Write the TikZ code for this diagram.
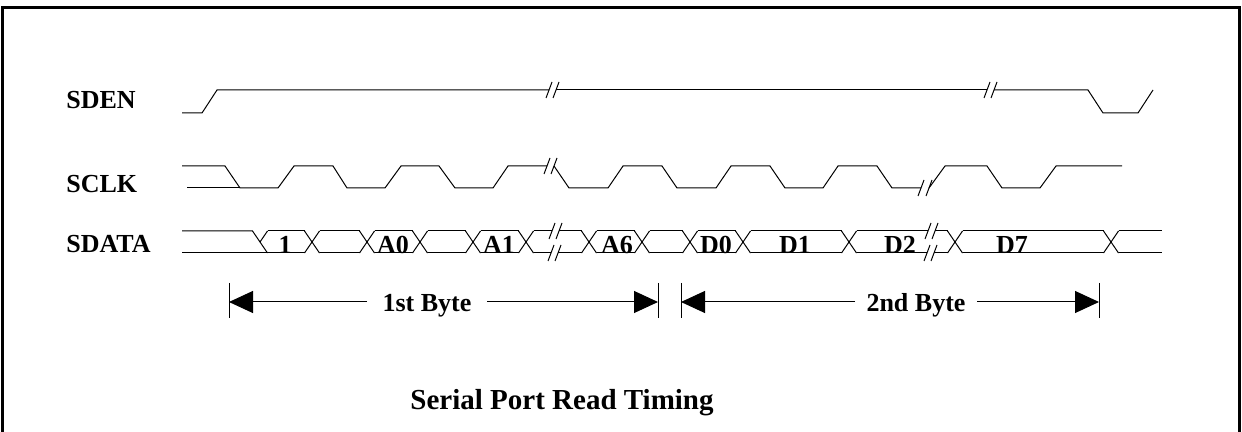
\documentclass[tikz,border=0pt]{standalone}
\usepackage{fontspec}
\setmainfont{Liberation Serif}
\usetikzlibrary{arrows.meta}
\begin{document}
\begin{tikzpicture}[x=0.5pt,y=-0.5pt,
  sig/.style={line width=0.5pt,line join=miter},
  brk/.style={line width=0.5pt},
  lbl/.style={font=\bfseries\fontsize{13}{15}\selectfont,inner sep=0pt},
  ttl/.style={font=\bfseries\fontsize{14.5}{17}\selectfont,inner sep=0pt},
  tick/.style={line width=0.5pt},
  arr/.style={line width=0.5pt,-{Triangle[length=12pt,width=11pt]}}]
\useasboundingbox (0,0) rectangle (1242,432);
\fill[white] (0,0) rectangle (1242,432);
% frame
\draw[line width=1.5pt] (2,445) -- (2,7.7) -- (1239.3,7.7) -- (1239.3,445);

% signal names
\node[lbl,anchor=base west] (nsden) at (66,109) {SDEN};
\node[lbl,anchor=base west] (nsclk) at (66,193) {SCLK};
\node[lbl,anchor=base west] (nsdata) at (66,253) {SDATA};

% SDEN
\draw[sig] (182,113) -- (202,113) -- (217,90) -- (549,90);
\draw[brk] (546,98) -- (552,82) (553,98) -- (559,82);
\draw[sig] (556,90) -- (987,90);
\draw[brk] (984,98) -- (990,82) (991,98) -- (997,82);
\draw[sig] (994,90) -- (1088,90) -- (1103,113) -- (1138,113) -- (1153,90);

% SCLK
\draw[sig] (182,166) -- (225,166) -- (240,188) -- (278,188) -- (294,166) -- (333,166)
  -- (347,188) -- (385,188) -- (401,166) -- (439,166) -- (455,188) -- (493,188)
  -- (508,166) -- (547,166);
\draw[sig] (187,188) -- (240,188);
\draw[brk] (544,174) -- (550,158) (551,174) -- (557,158);
\draw[sig] (554,166) -- (569,188) -- (608,188) -- (623,166) -- (662,166) -- (677,188)
  -- (716,188) -- (731,166) -- (770,166) -- (785,188) -- (823,188) -- (838,166)
  -- (877,166) -- (892,188) -- (921,188);
\draw[brk] (918,196) -- (924,180) (926,196) -- (932,180);
\draw[sig] (929,188) -- (945,166) -- (987,166) -- (1002,188) -- (1040,188)
  -- (1056,166) -- (1122,166);

% SDATA
% lead-in
\draw[sig] (182,231) -- (252.5,231) -- (267.5,253);
\draw[sig] (182,253) -- (267.5,253);
\draw[sig] (260,242) -- (267.5,231);
% crossings
\draw[sig] (304.5,231) -- (319.5,253) (304.5,253) -- (319.5,231);
\draw[sig] (359.5,231) -- (374.5,253) (359.5,253) -- (374.5,231);
\draw[sig] (412.5,231) -- (427.5,253) (412.5,253) -- (427.5,231);
\draw[sig] (465.5,231) -- (480.5,253) (465.5,253) -- (480.5,231);
\draw[sig] (518.5,231) -- (533.5,253) (518.5,253) -- (533.5,231);
\draw[sig] (581.5,231) -- (596.5,253) (581.5,253) -- (596.5,231);
\draw[sig] (634.5,231) -- (649.5,253) (634.5,253) -- (649.5,231);
\draw[sig] (682.5,231) -- (697.5,253) (682.5,253) -- (697.5,231);
\draw[sig] (735.5,231) -- (750.5,253) (735.5,253) -- (750.5,231);
\draw[sig] (841.5,231) -- (856.5,253) (841.5,253) -- (856.5,231);
\draw[sig] (947.5,231) -- (962.5,253) (947.5,253) -- (962.5,231);
\draw[sig] (1103.5,231) -- (1118.5,253) (1103.5,253) -- (1118.5,231);
% cells: top edges
\draw[sig] (267.5,231) -- (304.5,231);
\draw[sig] (319.5,231) -- (359.5,231);
\draw[sig] (374.5,231) -- (412.5,231);
\draw[sig] (427.5,231) -- (465.5,231);
\draw[sig] (480.5,231) -- (518.5,231);
\draw[sig] (596.5,231) -- (634.5,231);
\draw[sig] (649.5,231) -- (682.5,231);
\draw[sig] (697.5,231) -- (735.5,231);
\draw[sig] (750.5,231) -- (841.5,231);
\draw[sig] (962.5,231) -- (1103.5,231);
% cells: bottom edges
\draw[sig] (267.5,253) -- (304.5,253);
\draw[sig] (319.5,253) -- (359.5,253);
\draw[sig] (374.5,253) -- (412.5,253);
\draw[sig] (427.5,253) -- (465.5,253);
\draw[sig] (480.5,253) -- (518.5,253);
\draw[sig] (596.5,253) -- (634.5,253);
\draw[sig] (649.5,253) -- (682.5,253);
\draw[sig] (697.5,253) -- (735.5,253);
\draw[sig] (750.5,253) -- (841.5,253);
\draw[sig] (962.5,253) -- (1103.5,253);
% broken cell A1..A6
\draw[sig] (533.5,231) -- (552,231) (559,231) -- (581.5,231)
           (533.5,253) -- (551,253) (558,253) -- (581.5,253);
\draw[brk] (549,239) -- (555,223) (556,239) -- (562,223)
           (548,261) -- (554,245) (555,261) -- (561,245);
% broken cell D2
\draw[sig] (856.5,231) -- (928,231) (935,231) -- (947.5,231)
           (856.5,253) -- (927,253) (934,253) -- (947.5,253);
\draw[brk] (925,239) -- (931,223) (932,239) -- (938,223)
           (924,261) -- (930,245) (931,261) -- (937,245);
% tail
\draw[sig] (1118.5,231) -- (1162,231) (1118.5,253) -- (1162,253);

% data labels
\node[lbl,anchor=base] (d1) at (285,254) {1};
\node[lbl,anchor=base] (da0) at (393,254) {A0};
\node[lbl,anchor=base] (da1) at (499,254) {A1};
\node[lbl,anchor=base] (da6) at (617,254) {A6};
\node[lbl,anchor=base] (dd0) at (716,254) {D0};
\node[lbl,anchor=base] (dd1) at (795,254) {D1};
\node[lbl,anchor=base] (dd2) at (900,254) {D2};
\node[lbl,anchor=base] (dd7) at (1012,254) {D7};

% byte markers
\coordinate (t1) at (229,302);
\coordinate (t2) at (658,302);
\coordinate (t3) at (681,302);
\coordinate (t4) at (1099,302);
\foreach \t in {t1,t2,t3,t4}{
  \draw[tick] (\t) ++(0,-19) -- ++(0,35);
}
\node[lbl,anchor=base] (b1) at (427,312) {1st Byte};
\node[lbl,anchor=base] (b2) at (916,312) {2nd Byte};
\coordinate (b1l) at (367,302);
\coordinate (b1r) at (487,302);
\coordinate (b2l) at (855,302);
\coordinate (b2r) at (977,302);
\draw[arr] (b1l) -- (t1);
\draw[arr] (b1r) -- (t2);
\draw[arr] (b2l) -- (t3);
\draw[arr] (b2r) -- (t4);

% title
\node[ttl,anchor=base] (title) at (562,410) {Serial Port Read Timing};
\end{tikzpicture}
\end{document}
